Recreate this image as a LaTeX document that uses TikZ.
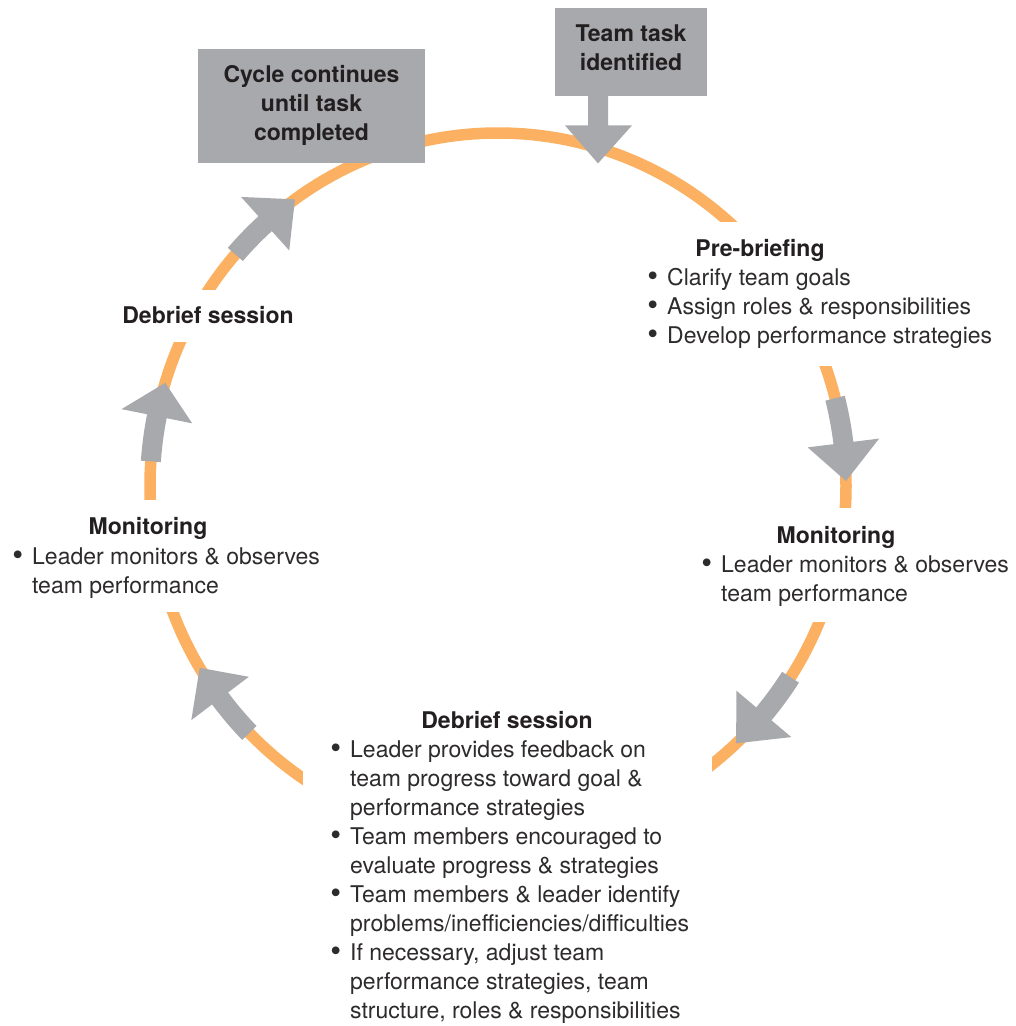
\documentclass[tikz,border=0pt]{standalone}
\usepackage{fontspec}
\setmainfont{TeX Gyre Heros}
\usetikzlibrary{calc}
\definecolor{cycorange}{HTML}{FBB161}
\definecolor{boxgray}{HTML}{A7A9AC}
\definecolor{ink}{HTML}{231F20}
\definecolor{bodyink}{HTML}{2E2B2C}
% arrow along the ring: tail angle, head-base angle, tip angle
\newcommand{\cycarrow}[3]{%
  \fill[boxgray] plot[domain=#1:#2, samples=15] ({498+358*cos(\x)},{-486+363*sin(\x)})
    -- ({498+384*cos(#2)},{-486+389*sin(#2)})
    -- ({498+348*cos(#3)},{-486+353*sin(#3)})
    -- ({498+312*cos(#2)},{-486+317*sin(#2)})
    -- plot[domain=#2:#1, samples=15] ({498+338*cos(\x)},{-486+343*sin(\x)})
    -- cycle;}
\newcommand{\bul}{\llap{{\fontsize{31}{29}\selectfont\raisebox{-1.2pt}{\textbullet}}\hspace{9pt}}}
\begin{document}
\begin{tikzpicture}[x=1pt,y=1pt,
  body/.style={anchor=base west, inner sep=0pt, text=bodyink, font=\fontsize{23}{29}\selectfont},
  head/.style={anchor=base, inner sep=0pt, text=ink, font=\fontsize{23}{29}\selectfont\bfseries},
  boxtext/.style={anchor=base, inner sep=0pt, text=ink, font=\fontsize{23}{29}\selectfont\bfseries},
  graybox/.style={fill=boxgray, draw=none, inner sep=0pt, anchor=north west},
  ring/.style={draw=cycorange, line width=11.5pt},
  mask/.style={fill=white, draw=none}]
\useasboundingbox (0,0) rectangle (1016,-1026);
\fill[white] (0,0) rectangle (1016,-1026);

% ring
\coordinate (C) at (498,-486);
\draw[ring] (C) ellipse [x radius=348pt, y radius=353pt];
% gaps in the ring
\fill[mask] (140,-290) rectangle (235,-342);
\fill[mask] (120,-500) rectangle (200,-612);
\fill[mask] (303,-700) rectangle (712,-880);
\fill[mask] (795,-508) rectangle (880,-622);
\fill[mask] (695,-222) rectangle (880,-366);

% cycle arrows
\cycarrow{139}{132}{125.7}
\cycarrow{14.4}{7}{0.8}
\cycarrow{-32.8}{-40.2}{-46.8}
\cycarrow{224.4}{217}{211}
\cycarrow{176}{168.6}{163}

% gray boxes
\node[graybox, minimum width=227pt, minimum height=114pt] (cycle) at (198,-49) {};
\node[graybox, minimum width=152pt, minimum height=88pt] (task) at (555,-8) {};
\coordinate (tasktip) at ($(task.south west)+(43,-67)$);
\fill[boxgray] ($(task.south west)+(33,1)$) -- ($(task.south west)+(33,-29)$)
  -- ($(task.south west)+(10,-29)$) -- (tasktip)
  -- ($(task.south west)+(77,-29)$) -- ($(task.south west)+(53,-29)$)
  -- ($(task.south west)+(53,1)$) -- cycle;

\node[boxtext] (cyc1) at (311.5,-82) {Cycle continues};
\node[boxtext] (cyc2) at (311.5,-111) {until task};
\node[boxtext] (cyc3) at (311.5,-140) {completed};
\node[boxtext] (task1) at (631,-41) {Team task};
\node[boxtext] (task2) at (631,-70) {identified};

% pre-briefing
\node[head] (pbh) at (760,-256) {Pre-briefing};
\node[body] (pb1) at (667,-285) {\bul Clarify team goals};
\node[body] (pb2) at (667,-314) {\bul Assign roles \& responsibilities};
\node[body] (pb3) at (667,-343) {\bul Develop performance strategies};

% monitoring right
\node[head] (mrh) at (836,-543) {Monitoring};
\node[body] (mr1) at (721,-572) {\bul Leader monitors \& observes};
\node[body] (mr2) at (721,-601) {team performance};

% monitoring left
\node[head] (mlh) at (148,-534) {Monitoring};
\node[body] (ml1) at (32,-564) {\bul Leader monitors \& observes};
\node[body] (ml2) at (32,-593) {team performance};

% debrief left
\node[head] (dlh) at (208,-323) {Debrief session};

% debrief bottom
\node[head] (dbh) at (507,-728) {Debrief session};
\foreach \t [count=\i from 0] in {%
  {\bul Leader provides feedback on},
  {team progress toward goal \&},
  {performance strategies},
  {\bul Team members encouraged to},
  {evaluate progress \& strategies},
  {\bul Team members \& leader identify},
  {problems/inefficiencies/difficulties},
  {\bul If necessary, adjust team},
  {performance strategies, team},
  {structure, roles \& responsibilities}}
  \node[body] (db\i) at (350,{-757-29.05*\i}) {\t};
\end{tikzpicture}
\end{document}
